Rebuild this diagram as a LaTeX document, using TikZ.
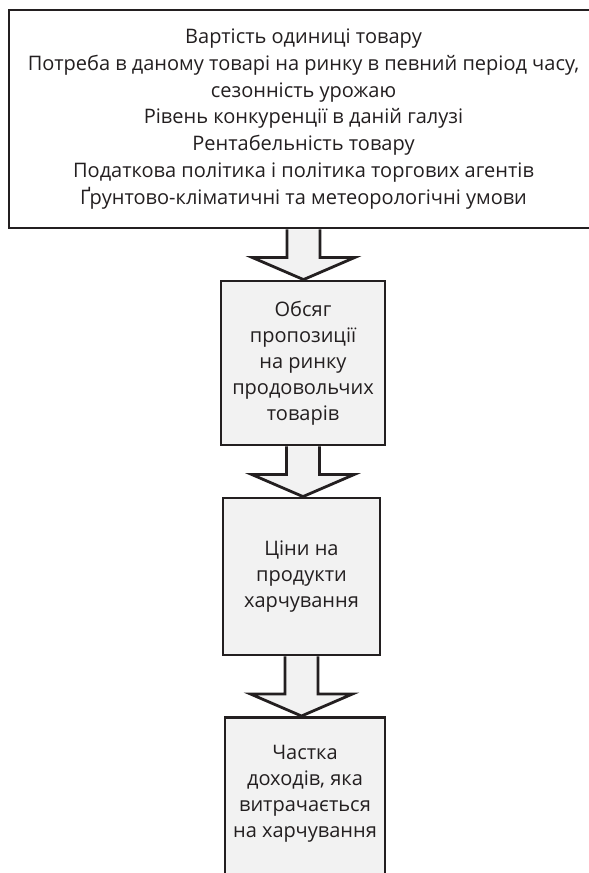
\documentclass[tikz,border=0pt]{standalone}
\usepackage{fontspec}
\setmainfont{Open Sans}
\usetikzlibrary{calc}
\definecolor{inkgray}{HTML}{231F20}
\definecolor{boxgray}{HTML}{F2F2F2}
\newcommand{\blockarrow}[2]{%
  \draw[arrowbody] let \p1=(#1.south), \p2=(#2.north) in
    (\x1-16.5pt,\y1) -- (\x1-16.5pt,\y2+22pt) -- (\x1-51pt,\y2+22pt) -- (\x1,\y2)
    -- (\x1+51pt,\y2+22pt) -- (\x1+16.5pt,\y2+22pt) -- (\x1+16.5pt,\y1);}
\begin{document}
\begin{tikzpicture}[x=1pt,y=1pt,
    every node/.style={text=inkgray, font=\fontsize{20}{26}\selectfont, align=center},
    factorbox/.style={draw=inkgray, line width=2.8pt, fill=white, inner sep=0pt},
    stagebox/.style={draw=inkgray, line width=2.8pt, fill=boxgray, inner sep=0pt},
    arrowbody/.style={draw=inkgray, line width=2.8pt, fill=boxgray, line join=miter}]
   \useasboundingbox (0,0) rectangle (589,873);
   \node[factorbox, minimum width=589, minimum height=218,
         font=\fontsize{20}{26.8}\selectfont] (factors) at (303.5,754)
      {Вартість одиниці товару\\
       Потреба в даному товарі на ринку в певний період часу,\\
       сезонність урожаю\\
       Рівень конкуренції в даній галузі\\
       Рентабельність товару\\
       Податкова політика і політика торгових агентів\\
       Ґрунтово-кліматичні та метеорологічні умови};
   \node[stagebox, minimum width=164, minimum height=164] (supply) at (303,510)
      {Обсяг\\пропозиції\\на ринку\\продовольчих\\товарів};
   \node[stagebox, minimum width=157, minimum height=157] (prices) at (301.5,296.5)
      {Ціни на\\продукти\\харчування};
   \node[stagebox, minimum width=160, minimum height=180, anchor=north] (share) at (305,157) {};
   \node (sharetext) at (305,79) {Частка\\доходів, яка\\витрачається\\на харчування};
   \blockarrow{factors}{supply}
   \blockarrow{supply}{prices}
   \blockarrow{prices}{share}
\end{tikzpicture}
\end{document}
